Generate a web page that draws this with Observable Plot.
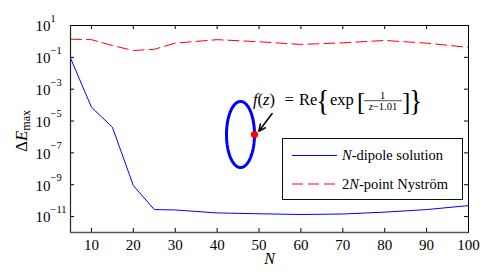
<!DOCTYPE html>
<html><head><meta charset="utf-8">
<script src="https://cdn.jsdelivr.net/npm/d3@7"></script>
<script src="https://cdn.jsdelivr.net/npm/@observablehq/plot@0.6"></script>
<style>
body{margin:0;background:#fff;}
#chart{position:relative;width:485px;height:272px;}
#chart svg{position:absolute;left:0;top:0;}
</style>
</head><body><div id="chart"></div>
<script>
// ---- data ----
const dipoleN = [5, 10, 15, 20, 25, 30, 40, 50, 60, 70, 80, 90, 100];
const dipoleErr = [0.09, 7.4e-5, 4.1e-6, 8.9e-10, 2.75e-11, 2.6e-11, 1.7e-11, 1.5e-11, 1.35e-11, 1.45e-11, 1.9e-11, 2.75e-11, 4.9e-11];
const nystromN = [5, 10, 15, 20, 25, 30, 40, 50, 60, 70, 80, 90, 100];
const nystromErr = [1.38, 1.29, 0.55, 0.27, 0.32, 0.78, 1.29, 0.95, 0.65, 0.81, 1.15, 0.78, 0.42];
const xTicks = [10, 20, 30, 40, 50, 60, 70, 80, 90, 100];
const yExponents = [1, -1, -3, -5, -7, -9, -11];
const legendLabels = ["N-dipole solution", "2N-point Nyström"];
// inset: boundary ellipse (semi-axes) and singular point marker
const ellipseAxes = [1, 2.36];
const markerPoint = [{x: 1, y: 0}];
// annotation arrow (data coordinates of main chart)
const arrowData = [{x1: 53.14, y1: 10 ** -4.53, x2: 49.95, y2: 10 ** -5.64}];

const W = 485, H = 272, mL = 70, mR = 17, mT = 25, mB = 40;
const innerW = W - mL - mR, innerH = H - mT - mB;
const serif = "'Liberation Serif', 'Times New Roman', 'DejaVu Serif', serif";
const blue = "#0000ff", red = "#ff0000";

const dipole = dipoleN.map((n, i) => ({n, v: dipoleErr[i]}));
const nystrom = nystromN.map((n, i) => ({n, v: nystromErr[i]}));
const yTicks = yExponents.map(e => 10 ** e);

const plot = Plot.plot({
  width: W, height: H,
  marginLeft: mL, marginRight: mR, marginTop: mT, marginBottom: mB,
  style: {fontFamily: serif, background: "transparent", overflow: "visible", color: "black"},
  x: {domain: [5, 100]},
  y: {type: "log", domain: [1e-12, 10]},
  marks: [
    Plot.line(nystrom, {x: "n", y: "v", stroke: red, strokeWidth: 1, strokeDasharray: "11,5"}),
    Plot.line(dipole, {x: "n", y: "v", stroke: blue, strokeWidth: 1}),
    Plot.tickX(xTicks, {x: d => d, insetTop: innerH - 4, stroke: "black"}),
    Plot.tickX(xTicks, {x: d => d, insetBottom: innerH - 4, stroke: "black"}),
    Plot.tickY(yTicks, {y: d => d, insetRight: innerW - 4, stroke: "black"}),
    Plot.tickY(yTicks, {y: d => d, insetLeft: innerW - 4, stroke: "black"}),
    Plot.frame({stroke: "black", strokeWidth: 1}),
    Plot.ruleY([1e-12], {stroke: "#555", strokeWidth: 1.5}),
    Plot.ruleX([5], {stroke: "#222", strokeWidth: 1.2}),
    Plot.axisX(xTicks, {tickSize: 0, tickPadding: 7, fontSize: 15, label: null, fontFamily: serif}),
    Plot.axisY({ticks: [], label: null, tickSize: 0}),
    Plot.text(yExponents, {x: 5, y: e => 10 ** e, text: () => "10", textAnchor: "end", dx: -20, dy: 1, fontSize: 15, fontFamily: serif}),
    Plot.text(yExponents, {x: 5, y: e => 10 ** e, text: e => (e < 0 ? "\u2212" + (-e) : String(e)), textAnchor: "start", dx: -20, dy: -7, fontSize: 10.5, fontFamily: serif}),
    Plot.text(["N"], {frameAnchor: "bottom", dy: 31, fontStyle: "italic", fontSize: 16, fontFamily: serif}),
    Plot.arrow(arrowData, {x1: "x1", y1: "y1", x2: "x2", y2: "y2", stroke: "black", strokeWidth: 1.5, headLength: 9, headAngle: 50})
  ]
});

const chart = document.getElementById("chart");
chart.appendChild(plot);

// inset: ellipse domain with marked point
const t = d3.range(0, 2 * Math.PI + 0.05, 0.05);
const ellipse = t.map(a => ({x: ellipseAxes[0] * Math.cos(a), y: ellipseAxes[1] * Math.sin(a)}));
const s = 14; // px per unit
const iw = 40, ih = 80;
const inset = Plot.plot({
  width: iw, height: ih, margin: 0,
  style: {background: "transparent", overflow: "visible"},
  x: {domain: [-iw / 2 / s, iw / 2 / s], axis: null},
  y: {domain: [-ih / 2 / s, ih / 2 / s], axis: null},
  marks: [
    Plot.line(ellipse, {x: "x", y: "y", stroke: blue, strokeWidth: 3}),
    Plot.dot(markerPoint, {x: "x", y: "y", r: 3.6, fill: red, stroke: "none"})
  ]
});
inset.style.left = (239.5 - iw / 2) + "px";
inset.style.top = (133.6 - ih / 2) + "px";
chart.appendChild(inset);

// overlay svg for y label, formula, legend
const svg = d3.select(chart).append("svg")
  .attr("width", W).attr("height", H)
  .style("font-family", serif);

// y label
const yl = svg.append("text")
  .attr("transform", "translate(27,131) rotate(-90)")
  .attr("text-anchor", "middle")
  .attr("font-size", 17);
yl.append("tspan").text("\u0394");
yl.append("tspan").attr("font-style", "italic").text("E");
yl.append("tspan").attr("font-size", 12).attr("dy", 3).text("max");

// formula
const f = svg.append("g").attr("font-size", 16.5);
const fz = f.append("text").attr("x", 253).attr("y", 105);
fz.append("tspan").attr("font-style", "italic").text("f");
fz.append("tspan").text("(");
fz.append("tspan").attr("font-style", "italic").text("z");
fz.append("tspan").text(")");
f.append("text").attr("x", 284.5).attr("y", 105).text("=");
f.append("text").attr("x", 299).attr("y", 105).text("Re");
f.append("text").attr("x", 316).attr("y", 110).attr("font-size", 28).attr("transform", "translate(0,-8) scale(1,1.07)").text("{");
f.append("text").attr("x", 330).attr("y", 105).text("exp");
f.append("text").attr("x", 357).attr("y", 110).attr("font-size", 25).text("[");
f.append("text").attr("x", 382.5).attr("y", 98.5).attr("font-size", 10.5).attr("text-anchor", "middle").text("1");
f.append("line").attr("x1", 364).attr("x2", 402).attr("y1", 100.7).attr("y2", 100.7).attr("stroke", "black").attr("stroke-width", 0.7);
const den = f.append("text").attr("x", 383).attr("y", 110).attr("font-size", 10.5).attr("text-anchor", "middle");
den.append("tspan").attr("font-style", "italic").text("z");
den.append("tspan").text("\u22121.01");
f.append("text").attr("x", 402).attr("y", 110).attr("font-size", 25).text("]");
f.append("text").attr("x", 409).attr("y", 110).attr("font-size", 28).attr("transform", "translate(0,-8) scale(1,1.07)").text("}");

// legend
const lg = svg.append("g");
lg.append("rect").attr("x", 282.5).attr("y", 138.5).attr("width", 180).attr("height", 61)
  .attr("fill", "white").attr("stroke", "#111").attr("stroke-width", 1);
lg.append("line").attr("x1", 292).attr("x2", 337).attr("y1", 155.5).attr("y2", 155.5).attr("stroke", blue).attr("stroke-width", 1);
lg.append("line").attr("x1", 292).attr("x2", 337).attr("y1", 184).attr("y2", 184).attr("stroke", red).attr("stroke-width", 1).attr("stroke-dasharray", "11,5");
const t1 = lg.append("text").attr("x", 342).attr("y", 160).attr("font-size", 14.5);
t1.append("tspan").attr("font-style", "italic").text("N");
t1.append("tspan").text(legendLabels[0].slice(1));
const t2 = lg.append("text").attr("x", 342).attr("y", 188.5).attr("font-size", 14.5);
t2.append("tspan").text("2");
t2.append("tspan").attr("font-style", "italic").text("N");
t2.append("tspan").text(legendLabels[1].slice(2));
</script>
</body></html>
